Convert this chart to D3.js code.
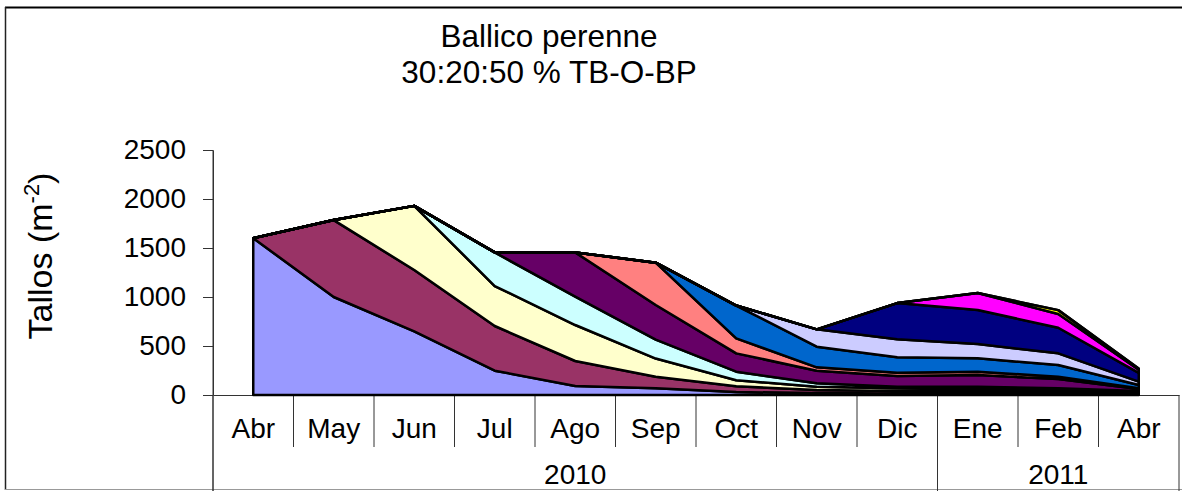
<!DOCTYPE html>
<html>
<head>
<meta charset="utf-8">
<script src="https://cdn.jsdelivr.net/npm/d3@7"></script>
<style>
  html, body { margin: 0; padding: 0; background: #fff; }
  svg { display: block; font-family: "Liberation Sans", Arial, sans-serif; }
</style>
</head>
<body>
<svg id="chart" width="1182" height="491"></svg>
<script>
// Months of the sampling period and the year each belongs to
const months = ["Abr", "May", "Jun", "Jul", "Ago", "Sep", "Oct", "Nov", "Dic", "Ene", "Feb", "Abr"];
const years = [
  { label: "2010", from: 0, to: 8 },
  { label: "2011", from: 9, to: 11 }
];
const yTicks = [0, 500, 1000, 1500, 2000, 2500];

// Live tillers per m² of each monthly cohort (cohort named by its month of appearance)
const cohortAbr10 = [1600, 1000, 650, 248, 92, 70, 30, 20, 15, 15, 10, 5];
const cohortMay10 = [0, 785, 625, 456, 255, 117, 60, 30, 25, 25, 20, 10];
const cohortJun10 = [0, 0, 655, 408, 367, 185, 60, 35, 28, 20, 20, 10];
const cohortJul10 = [0, 0, 0, 343, 289, 193, 88, 34, 17, 25, 18, 15];
const cohortAgo10 = [0, 0, 0, 0, 452, 353, 187, 129, 109, 119, 95, 20];
const cohortSep10 = [0, 0, 0, 0, 0, 432, 153, 34, 34, 34, 24, 8];
const cohortOct10 = [0, 0, 0, 0, 0, 0, 335, 211, 157, 136, 119, 34];
const cohortNov10 = [0, 0, 0, 0, 0, 0, 0, 177, 183, 146, 119, 34];
const cohortDic10 = [0, 0, 0, 0, 0, 0, 0, 0, 370, 347, 261, 90];
const cohortEne11 = [0, 0, 0, 0, 0, 0, 0, 0, 0, 173, 140, 32];
const cohortFeb11 = [0, 0, 0, 0, 0, 0, 0, 0, 0, 0, 40, 9];
const cohortAbr11 = [0, 0, 0, 0, 0, 0, 0, 0, 0, 0, 0, 3];

const cohorts = [
  { key: "Abr10", values: cohortAbr10, color: "#9999FF" },
  { key: "May10", values: cohortMay10, color: "#993366" },
  { key: "Jun10", values: cohortJun10, color: "#FFFFCC" },
  { key: "Jul10", values: cohortJul10, color: "#CCFFFF" },
  { key: "Ago10", values: cohortAgo10, color: "#660066" },
  { key: "Sep10", values: cohortSep10, color: "#FF8080" },
  { key: "Oct10", values: cohortOct10, color: "#0066CC" },
  { key: "Nov10", values: cohortNov10, color: "#CCCCFF" },
  { key: "Dic10", values: cohortDic10, color: "#000080" },
  { key: "Ene11", values: cohortEne11, color: "#FF00FF" },
  { key: "Feb11", values: cohortFeb11, color: "#FFFF00" },
  { key: "Abr11", values: cohortAbr11, color: "#00FFFF" }
];

// Row-per-month table for d3.stack
const table = months.map((m, i) => {
  const row = { idx: i };
  cohorts.forEach(c => { row[c.key] = c.values[i]; });
  return row;
});

const svg = d3.select("#chart");
const W = 1182, H = 491;
const plot = { left: 213, right: 1179, top: 150, bottom: 395 };

// Outer chart frame
svg.append("line").attr("x1", 5).attr("x2", W).attr("y1", 7.5).attr("y2", 7.5)
  .attr("stroke", "#000").attr("stroke-width", 2);
svg.append("line").attr("x1", 5.5).attr("x2", 5.5).attr("y1", 7).attr("y2", 490)
  .attr("stroke", "#222").attr("stroke-width", 1.5);
svg.append("line").attr("x1", 5).attr("x2", W).attr("y1", 489.5).attr("y2", 489.5)
  .attr("stroke", "#999").attr("stroke-width", 1);

// Title
const title = svg.append("text").attr("text-anchor", "middle").attr("font-size", 31.5).attr("fill", "#000");
title.append("tspan").attr("x", 549).attr("y", 47).text("Ballico perenne");
title.append("tspan").attr("x", 549).attr("y", 82.5).text("30:20:50 % TB-O-BP");

// Scales
const x = d3.scaleBand().domain(d3.range(months.length)).range([plot.left, plot.right]).padding(0);
const y = d3.scaleLinear().domain([0, 2500]).range([plot.bottom, plot.top]);
const cx = i => x(i) + x.bandwidth() / 2;

// Y axis
const yAxis = svg.append("g").attr("transform", `translate(${plot.left},0)`)
  .call(d3.axisLeft(y).tickValues(yTicks).tickFormat(d3.format("d"))
    .tickSize(10).tickSizeOuter(0).tickPadding(17));
yAxis.select(".domain").attr("stroke", "#333");
yAxis.selectAll(".tick line").attr("stroke", "#333");
yAxis.selectAll(".tick text").attr("font-size", 28).attr("font-family", "Liberation Sans, Arial, sans-serif")
  .attr("fill", "#000");

// Y axis title
const yt = svg.append("text").attr("transform", "translate(52,256) rotate(-90)")
  .attr("text-anchor", "middle").attr("font-size", 34).attr("fill", "#000");
yt.append("tspan").text("Tallos (m");
yt.append("tspan").attr("font-size", 22).attr("dy", -13).text("-2");
yt.append("tspan").attr("dy", 13).text(")");

// X axis (month labels)
const xAxis = svg.append("g").attr("transform", `translate(0,${plot.bottom})`)
  .call(d3.axisBottom(x).tickSize(0).tickSizeOuter(0).tickFormat(i => months[i]));
xAxis.select(".domain").attr("stroke", "#333");
xAxis.selectAll(".tick text").attr("font-size", 28).attr("font-family", "Liberation Sans, Arial, sans-serif")
  .attr("fill", "#000").attr("y", 43).attr("dy", 0);

// Month separators and year separators
const sep = svg.append("g").attr("stroke", "#333").attr("stroke-width", 1);
d3.range(1, months.length).forEach(i => {
  sep.append("line").attr("x1", x(i)).attr("x2", x(i))
    .attr("y1", plot.bottom).attr("y2", 447);
});
const yearEdges = [x(0), x(9), x(11) + x.bandwidth()];
yearEdges.forEach(px => {
  sep.append("line").attr("x1", px).attr("x2", px).attr("y1", plot.bottom).attr("y2", H);
});
svg.append("line").attr("x1", plot.left).attr("x2", plot.left)
  .attr("y1", plot.top).attr("y2", H).attr("stroke", "#333");

// Year labels
svg.append("g").selectAll("text").data(years).join("text")
  .attr("x", d => (x(d.from) + x(d.to) + x.bandwidth()) / 2)
  .attr("y", 484)
  .attr("text-anchor", "middle").attr("font-size", 28).attr("fill", "#000")
  .text(d => d.label);

// Stacked cohort areas
const stack = d3.stack().keys(cohorts.map(c => c.key));
const layers = stack(table);
const area = d3.area()
  .x(d => cx(d.data.idx))
  .y0(d => y(d[0]))
  .y1(d => y(d[1]));

svg.append("g").selectAll("path").data(layers).join("path")
  .attr("d", area)
  .attr("fill", (d, i) => cohorts[i].color)
  .attr("stroke", "#000")
  .attr("stroke-width", 2.5)
  .attr("stroke-linejoin", "round");
</script>
</body>
</html>
